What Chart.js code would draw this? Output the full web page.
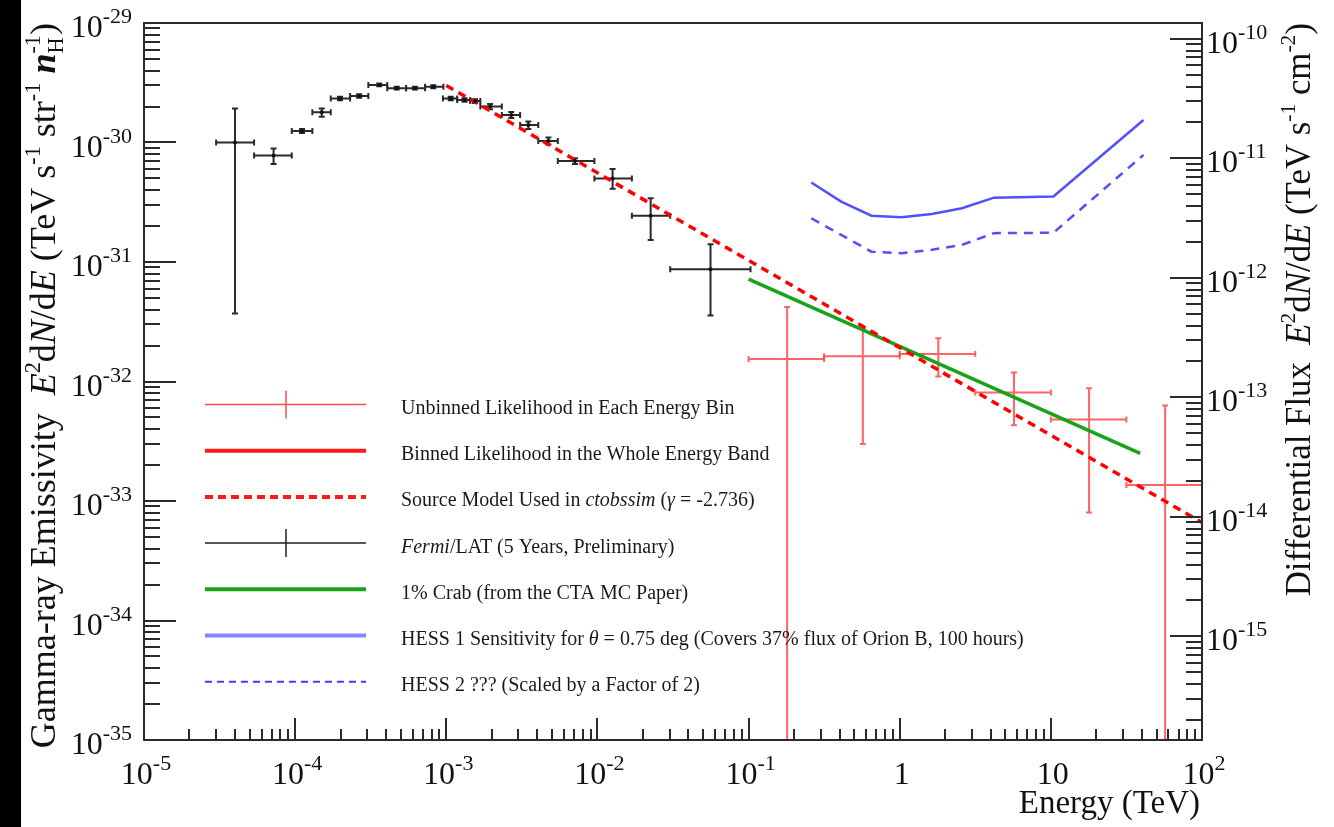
<!DOCTYPE html>
<html>
<head>
<meta charset="utf-8">
<script src="https://cdn.jsdelivr.net/npm/chart.js@4.4.1/dist/chart.umd.min.js"></script>
<style>
  html, body { margin: 0; padding: 0; background: #fff; }
  #wrap { width: 1334px; height: 827px; }
</style>
</head>
<body>
<div id="wrap"><canvas id="emissivityChart" width="1334" height="827"></canvas></div>
<script>
// Fermi/LAT (5 years, preliminary), left axis
const fermiE   = [4.0e-5, 7.2e-5, 1.11e-4, 1.5e-4, 1.98e-4, 2.65e-4, 3.6e-4, 4.7e-4, 6.2e-4, 8.2e-4, 1.07e-3, 1.32e-3, 1.55e-3, 1.95e-3, 2.69e-3, 3.49e-3, 4.74e-3, 7.1e-3, 1.26e-2, 2.25e-2, 5.6e-2];
const fermiELo = [3.0e-5, 5.35e-5, 9.5e-5, 1.3e-4, 1.72e-4, 2.31e-4, 3.05e-4, 4.07e-4, 5.42e-4, 7.24e-4, 9.5e-4, 1.18e-3, 1.44e-3, 1.68e-3, 2.33e-3, 3.08e-3, 4.06e-3, 5.47e-3, 9.55e-3, 1.69e-2, 3.03e-2];
const fermiEHi = [5.35e-5, 9.5e-5, 1.3e-4, 1.72e-4, 2.31e-4, 3.05e-4, 4.07e-4, 5.42e-4, 7.24e-4, 9.57e-4, 1.18e-3, 1.44e-3, 1.68e-3, 2.33e-3, 3.08e-3, 4.06e-3, 5.47e-3, 9.55e-3, 1.69e-2, 3.03e-2, 1.03e-1];
const fermiV   = [1.0e-30, 7.8e-31, 1.25e-30, 1.79e-30, 2.34e-30, 2.45e-30, 3.03e-30, 2.85e-30, 2.85e-30, 2.93e-30, 2.34e-30, 2.27e-30, 2.22e-30, 2.0e-30, 1.7e-30, 1.4e-30, 1.03e-30, 7.0e-31, 5.0e-31, 2.44e-31, 8.7e-32];
const fermiVLo = [3.7e-32, 6.6e-31, 1.2e-30, 1.64e-30, 2.26e-30, 2.37e-30, 2.95e-30, 2.77e-30, 2.77e-30, 2.85e-30, 2.26e-30, 2.19e-30, 2.14e-30, 1.9e-30, 1.6e-30, 1.3e-30, 9.6e-31, 6.6e-31, 4.1e-31, 1.53e-31, 3.56e-32];
const fermiVHi = [1.93e-30, 8.9e-31, 1.3e-30, 1.93e-30, 2.42e-30, 2.53e-30, 3.11e-30, 2.93e-30, 2.93e-30, 3.01e-30, 2.42e-30, 2.35e-30, 2.3e-30, 2.1e-30, 1.8e-30, 1.5e-30, 1.1e-30, 7.4e-31, 6.0e-31, 3.41e-31, 1.41e-31];

// unbinned likelihood, one point per half-decade bin
const binLo    = [0.1, 0.316, 1.0, 3.16, 10, 31.6];
const binHi    = [0.316, 1.0, 3.16, 10, 31.6, 100];
const unbinE   = [0.18, 0.57, 1.8, 5.7, 17.9, 57];
const unbinV   = [1.54e-32, 1.63e-32, 1.7e-32, 8.1e-33, 4.8e-33, 1.36e-33];
const unbinVLo = [1e-36, 3.0e-33, 1.1e-32, 4.3e-33, 8.0e-34, 1e-36];
const unbinVHi = [4.2e-32, 2.8e-32, 2.3e-32, 1.19e-32, 8.8e-33, 6.3e-33];

// source model (gamma = -2.736) and 1% Crab, end points
const modelE = [1e-3, 100];
const modelV = [3.0e-30, 6.6e-34];
const crabE  = [0.1, 39];
const crabV  = [7.2e-32, 2.5e-33];

// HESS sensitivity curves, right axis (TeV s^-1 cm^-2)
const hessE = [0.26, 0.41, 0.65, 1.03, 1.63, 2.58, 4.2, 10.4, 41];
const hess1 = [6.3e-12, 4.35e-12, 3.32e-12, 3.22e-12, 3.43e-12, 3.83e-12, 4.7e-12, 4.8e-12, 2.1e-11];
const hess2 = [3.16e-12, 2.29e-12, 1.66e-12, 1.61e-12, 1.72e-12, 1.89e-12, 2.37e-12, 2.39e-12, 1.07e-11];

const xDecades  = [-5, -4, -3, -2, -1, 0, 1, 2];
const yDecades  = [-35, -34, -33, -32, -31, -30, -29];
const y2Decades = [-15, -14, -13, -12, -11, -10];

const FONT = '"Liberation Serif", "Times New Roman", serif';
const pts = (xs, ys) => xs.map((x, i) => ({ x: x, y: ys[i] }));

function fontStr (p, size) {
  const s = (p.sup || p.sub) ? size * 0.62 : size;
  return (p.it ? 'italic ' : '') + (p.b ? 'bold ' : '') + s.toFixed(1) + 'px ' + FONT;
}

function layoutRich (ctx, parts, size) {
  let x = 0, prevStart = 0;
  const runs = [];
  for (const p of parts) {
    const f = fontStr(p, size);
    ctx.font = f;
    const w = ctx.measureText(p.t).width;
    const sx = p.stack ? prevStart : x;
    const dy = p.sup ? -size * 0.42 : (p.sub ? size * 0.22 : 0);
    runs.push({ t: p.t, font: f, x: sx, dy: dy });
    prevStart = sx;
    x = Math.max(x, sx + w);
  }
  return { runs: runs, width: x };
}

function drawRich (ctx, lay, x, y) {
  for (const r of lay.runs) {
    ctx.font = r.font;
    ctx.fillText(r.t, x + r.x, y + r.dy);
  }
}

// "10" with exponent, as ROOT writes it
function powLabel (ctx, n, x, y, align) {
  let base = '10', exp = String(n);
  if (n === 0) { base = '1'; exp = ''; }
  if (n === 1) { exp = ''; }
  ctx.font = '32px ' + FONT;
  const wb = ctx.measureText(base).width;
  ctx.font = '22px ' + FONT;
  const we = exp ? ctx.measureText(exp).width : 0;
  const total = wb + we;
  let x0 = x;
  if (align === 'right') x0 = x - total;
  if (align === 'center') x0 = x - total / 2;
  ctx.textAlign = 'left';
  ctx.font = '32px ' + FONT;
  ctx.fillText(base, x0, y);
  if (exp) {
    ctx.font = '22px ' + FONT;
    ctx.fillText(exp, x0 + wb, y - 14);
  }
}

function drawErrorBars (chart, xs, xlo, xhi, ys, ylo, yhi, color, width, axisId) {
  const ctx = chart.ctx, sx = chart.scales.x, sy = chart.scales[axisId];
  const a = chart.chartArea;
  ctx.save();
  ctx.beginPath();
  ctx.rect(a.left, a.top, a.right - a.left, a.bottom - a.top);
  ctx.clip();
  ctx.strokeStyle = color;
  ctx.lineWidth = width;
  for (let i = 0; i < xs.length; i++) {
    const px = sx.getPixelForValue(xs[i]), py = sy.getPixelForValue(ys[i]);
    const x1 = sx.getPixelForValue(xlo[i]), x2 = sx.getPixelForValue(xhi[i]);
    const y1 = sy.getPixelForValue(ylo[i]), y2 = sy.getPixelForValue(yhi[i]);
    ctx.beginPath();
    ctx.moveTo(x1, py); ctx.lineTo(x2, py);
    ctx.moveTo(px, y1); ctx.lineTo(px, y2);
    // end caps
    ctx.moveTo(x1, py - 3); ctx.lineTo(x1, py + 3);
    ctx.moveTo(x2, py - 3); ctx.lineTo(x2, py + 3);
    ctx.moveTo(px - 3, y1); ctx.lineTo(px + 3, y1);
    ctx.moveTo(px - 3, y2); ctx.lineTo(px + 3, y2);
    ctx.stroke();
  }
  ctx.restore();
}

const leftTitle = [
  { t: 'Gamma-ray Emissivity  ' }, { t: 'E', it: 1 }, { t: '2', sup: 1 }, { t: 'd' }, { t: 'N', it: 1 },
  { t: '/d' }, { t: 'E', it: 1 }, { t: ' (TeV s' }, { t: '-1', sup: 1 }, { t: ' str' }, { t: '-1', sup: 1 },
  { t: ' ' }, { t: 'n', it: 1, b: 1 }, { t: 'H', sub: 1 }, { t: '-1', sup: 1, stack: 1 }, { t: ')' }
];
const rightTitle = [
  { t: 'Differential Flux  ' }, { t: 'E', it: 1 }, { t: '2', sup: 1 }, { t: 'd' }, { t: 'N', it: 1 },
  { t: '/d' }, { t: 'E', it: 1 }, { t: ' (TeV s' }, { t: '-1', sup: 1 }, { t: ' cm' }, { t: '-2', sup: 1 }, { t: ')' }
];

const legendRows = [
  { kind: 'err', color: '#ff4d4d', parts: [{ t: 'Unbinned Likelihood in Each Energy Bin' }] },
  { kind: 'line', color: '#ff1a1a', width: 4, parts: [{ t: 'Binned Likelihood in the Whole Energy Band' }] },
  { kind: 'line', color: '#ff1a1a', width: 4, dash: [8, 5], parts: [{ t: 'Source Model Used in ' }, { t: 'ctobssim', it: 1 }, { t: ' (' }, { t: 'γ', it: 1 }, { t: ' = -2.736)' }] },
  { kind: 'err', color: '#222', parts: [{ t: 'Fermi', it: 1 }, { t: '/LAT (5 Years, Preliminary)' }] },
  { kind: 'line', color: '#1aa31a', width: 4, parts: [{ t: '1% Crab (from the CTA MC Paper)' }] },
  { kind: 'line', color: '#8585ff', width: 4, parts: [{ t: 'HESS 1 Sensitivity for ' }, { t: 'θ', it: 1 }, { t: ' = 0.75 deg (Covers 37% flux of Orion B, 100 hours)' }] },
  { kind: 'line', color: '#3c3cff', width: 2, dash: [7, 5], parts: [{ t: 'HESS 2 ??? (Scaled by a Factor of 2)' }] }
];

const rootStyle = {
  id: 'rootStyle',
  beforeDraw (chart) {
    const ctx = chart.ctx;
    ctx.save();
    ctx.fillStyle = '#fff';
    ctx.fillRect(0, 0, chart.width, chart.height);
    ctx.fillStyle = '#000';
    ctx.fillRect(0, 0, 21, chart.height);
    ctx.restore();
  },
  beforeDatasetsDraw (chart) {
    drawErrorBars(chart, fermiE, fermiELo, fermiEHi, fermiV, fermiVLo, fermiVHi, '#2a2a2a', 2, 'y');
    drawErrorBars(chart, unbinE, binLo, binHi, unbinV, unbinVLo, unbinVHi, 'rgba(255,60,60,0.8)', 2, 'y');
  },
  afterDraw (chart) {
    const ctx = chart.ctx, a = chart.chartArea;
    const sx = chart.scales.x, sy = chart.scales.y, sy2 = chart.scales.y2;
    ctx.save();
    ctx.strokeStyle = '#2a2a2a';
    ctx.lineWidth = 2;
    ctx.strokeRect(a.left, a.top, a.right - a.left, a.bottom - a.top);

    // inward ticks
    ctx.beginPath();
    xDecades.forEach(n => {
      for (let m = 1; m <= 9; m++) {
        const v = Number(m + 'e' + n);
        if (v < sx.min * 0.999 || v > sx.max * 1.001) continue;
        const p = Math.round(sx.getPixelForValue(v));
        ctx.moveTo(p, a.bottom); ctx.lineTo(p, a.bottom - (m === 1 ? 22 : 11));
      }
    });
    yDecades.forEach(n => {
      for (let m = 1; m <= 9; m++) {
        const v = Number(m + 'e' + n);
        if (v < sy.min * 0.999 || v > sy.max * 1.001) continue;
        const p = Math.round(sy.getPixelForValue(v));
        ctx.moveTo(a.left, p); ctx.lineTo(a.left + (m === 1 ? 32 : 16), p);
      }
    });
    [-16].concat(y2Decades).forEach(n => {
      for (let m = 1; m <= 9; m++) {
        const v = Number(m + 'e' + n);
        if (v < sy2.min || v > sy2.max) continue;
        const p = Math.round(sy2.getPixelForValue(v));
        ctx.moveTo(a.right, p); ctx.lineTo(a.right - (m === 1 ? 32 : 16), p);
      }
    });
    ctx.stroke();

    // tick labels
    ctx.fillStyle = '#111';
    ctx.textBaseline = 'alphabetic';
    xDecades.forEach(n => powLabel(ctx, n, sx.getPixelForValue(Number('1e' + n)) + 2, 784, 'center'));
    yDecades.forEach(n => powLabel(ctx, n, 132, sy.getPixelForValue(Number('1e' + n)) + 14, 'right'));
    y2Decades.forEach(n => powLabel(ctx, n, 1206, sy2.getPixelForValue(Number('1e' + n)) + 14, 'left'));

    // axis titles
    ctx.font = '33px ' + FONT;
    ctx.textAlign = 'right';
    ctx.fillText('Energy (TeV)', 1200, 813);
    ctx.textAlign = 'left';

    let lay = layoutRich(ctx, leftTitle, 30);
    lay = layoutRich(ctx, leftTitle, 30 * 725 / lay.width);
    ctx.save();
    ctx.translate(55, a.top + lay.width);
    ctx.rotate(-Math.PI / 2);
    drawRich(ctx, lay, 0, 0);
    ctx.restore();

    lay = layoutRich(ctx, rightTitle, 30);
    lay = layoutRich(ctx, rightTitle, 30 * 574 / lay.width);
    ctx.save();
    ctx.translate(1310, a.top + lay.width);
    ctx.rotate(-Math.PI / 2);
    drawRich(ctx, lay, 0, 0);
    ctx.restore();

    // legend
    legendRows.forEach((row, i) => {
      const ly = 404.5 + i * 46.2;
      ctx.save();
      ctx.strokeStyle = row.color;
      if (row.kind === 'err') {
        ctx.lineWidth = 1.5;
        ctx.beginPath();
        ctx.moveTo(205, ly); ctx.lineTo(366, ly);
        ctx.moveTo(286, ly - 14); ctx.lineTo(286, ly + 14);
        ctx.stroke();
      } else {
        ctx.lineWidth = row.width;
        ctx.setLineDash(row.dash || []);
        ctx.beginPath();
        ctx.moveTo(205, ly); ctx.lineTo(366, ly);
        ctx.stroke();
      }
      ctx.restore();
      ctx.fillStyle = '#1a1a1a';
      drawRich(ctx, layoutRich(ctx, row.parts, 20), 401, ly + 9.5);
    });
    ctx.restore();
  }
};

new Chart(document.getElementById('emissivityChart').getContext('2d'), {
  type: 'scatter',
  data: {
    datasets: [
      {
        label: 'Fermi/LAT (5 Years, Preliminary)',
        data: pts(fermiE, fermiV),
        pointRadius: 2, pointBackgroundColor: '#111', pointBorderWidth: 0,
        showLine: false, yAxisID: 'y'
      },
      {
        label: 'Unbinned Likelihood in Each Energy Bin',
        data: pts(unbinE, unbinV),
        pointRadius: 0, showLine: false, yAxisID: 'y'
      },
      {
        label: 'Source Model Used in ctobssim',
        data: pts(modelE, modelV),
        showLine: true, borderColor: '#ff0000', borderWidth: 3.5, borderDash: [8, 6],
        pointRadius: 0, yAxisID: 'y'
      },
      {
        label: '1% Crab',
        data: pts(crabE, crabV),
        showLine: true, borderColor: '#1aa31a', borderWidth: 3.5,
        pointRadius: 0, yAxisID: 'y'
      },
      {
        label: 'HESS 1 Sensitivity',
        data: pts(hessE, hess1),
        showLine: true, borderColor: '#5050ff', borderWidth: 2.5,
        pointRadius: 0, yAxisID: 'y2'
      },
      {
        label: 'HESS 2 (Scaled by a Factor of 2)',
        data: pts(hessE, hess2),
        showLine: true, borderColor: '#5050ff', borderWidth: 2.5, borderDash: [9, 7],
        pointRadius: 0, yAxisID: 'y2'
      }
    ]
  },
  options: {
    responsive: false,
    animation: false,
    devicePixelRatio: 1,
    layout: { padding: { left: 144, right: 132, top: 23, bottom: 87 } },
    plugins: { legend: { display: false }, tooltip: { enabled: false } },
    scales: {
      x: { type: 'logarithmic', min: 1e-5, max: 100, display: false },
      y: { type: 'logarithmic', min: 1e-35, max: 1e-29, display: false },
      y2: { type: 'logarithmic', min: 1.36e-16, max: 1.36e-10, display: false, position: 'right' }
    }
  },
  plugins: [rootStyle]
});
</script>
</body>
</html>
